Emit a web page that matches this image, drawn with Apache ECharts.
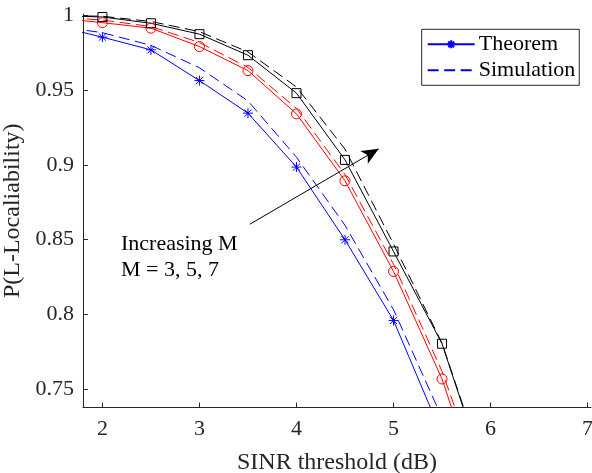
<!DOCTYPE html>
<html>
<head>
<meta charset="utf-8">
<script src="https://cdn.jsdelivr.net/npm/echarts@6/dist/echarts.min.js"></script>
<style>
html,body{margin:0;padding:0;background:#fff;}
#chart{width:592px;height:473px;}
</style>
</head>
<body>
<div id="chart"></div>
<script>
// ---- data ----
const xValues    = [1.5, 2, 2.5, 3, 3.5, 4, 4.5, 5, 5.5, 6];
const theoremM3  = [0.9933, 0.9855, 0.977, 0.9564, 0.9346, 0.8985, 0.8498, 0.7958, 0.7191, 0.640];
const simM3      = [0.9930, 0.9885, 0.980, 0.9650, 0.9428, 0.9051, 0.8595, 0.8030, 0.7306, 0.650];
const theoremM5  = [0.9985, 0.9952, 0.9915, 0.9792, 0.9631, 0.9341, 0.8893, 0.8286, 0.7566, 0.659];
const simM5      = [0.9990, 0.9970, 0.9926, 0.9819, 0.9652, 0.9378, 0.8935, 0.8335, 0.7617, 0.670];
const theoremM7  = [1.0000, 0.9990, 0.9948, 0.9875, 0.9734, 0.9480, 0.9033, 0.8420, 0.7802, 0.682];
const simM7      = [1.0000, 0.9995, 0.9960, 0.9892, 0.9756, 0.9521, 0.9105, 0.8470, 0.7805, 0.684];
const xTicks = [2, 3, 4, 5, 6, 7];
const yTicks = [0.75, 0.8, 0.85, 0.9, 0.95, 1];
const legendNames = ['Theorem', 'Simulation'];
const arrowFrom = [3.519, 0.8602];
const arrowTo   = [4.848, 0.9107];
const annotationLines = ['Increasing M', 'M = 3, 5, 7'];

const FONT = "'Liberation Serif', 'Times New Roman', serif";
const AXIS = '#262626';
const pairs = ys => xValues.map((x, i) => [x, ys[i]]);
const STAR = 'path://M0,-1L0,1M-1,0L1,0M-0.72,-0.72L0.72,0.72M-0.72,0.72L0.72,-0.72';

function solid(name, ys, color, symbol, size) {
  return {
    name, type: 'line', data: pairs(ys), symbol, symbolSize: size, showSymbol: true,
    lineStyle: { color, width: 1, type: 'solid' },
    itemStyle: { color: symbol === STAR ? color : 'rgba(0,0,0,0)', borderColor: color, borderWidth: 1 },
    emphasis: { disabled: true }, z: 3
  };
}
function dashed(name, ys, color) {
  return {
    name, type: 'line', data: pairs(ys), symbol: 'none', showSymbol: false,
    lineStyle: { color, width: 1, type: [11, 5.5] },
    itemStyle: { color },
    emphasis: { disabled: true }, z: 2
  };
}

const chart = echarts.init(document.getElementById('chart'), null, { renderer: 'canvas' });
const series = [
  solid('Theorem', theoremM3, '#0000ff', STAR, 10),
  dashed('Simulation', simM3, '#0000ff'),
  solid('Theorem M=5', theoremM5, '#ff0000', 'circle', 10),
  dashed('Simulation M=5', simM5, '#ff0000'),
  solid('Theorem M=7', theoremM7, '#000000', 'rect', 9),
  dashed('Simulation M=7', simM7, '#000000'),
  {
    name: 'arrow', type: 'line', data: [], silent: true,
    markLine: {
      silent: true, animation: false,
      symbol: ['none', 'arrow'], symbolSize: [11, 17],
      label: { show: false },
      lineStyle: { color: '#000', width: 1, type: 'solid' },
      emphasis: { disabled: true },
      data: [[{ coord: arrowFrom }, { coord: arrowTo }]]
    }
  }
];

chart.setOption({
  animation: false,
  backgroundColor: '#fff',
  textStyle: { fontFamily: FONT },
  grid: { left: 83, top: 14, right: 1, bottom: 65.5, containLabel: false, outerBoundsMode: 'none' },
  legend: {
    data: [
      { name: legendNames[0] },
      { name: legendNames[1], itemStyle: { color: 'rgba(0,0,0,0)', borderWidth: 0, opacity: 0 } }
    ],
    orient: 'vertical',
    left: 421.7, top: 29.3,
    padding: [4, 4, 4, 5],
    itemWidth: 47, itemHeight: 10, itemGap: 4,
    backgroundColor: '#fff',
    borderColor: AXIS, borderWidth: 1, borderRadius: 0,
    textStyle: { fontFamily: FONT, fontSize: 22, color: '#000', lineHeight: 22, padding: [0, 0, 0, -1] },
    selectedMode: false
  },
  xAxis: {
    type: 'value', min: 1.8, max: 7.035,
    name: 'SINR threshold (dB)', nameLocation: 'middle', nameGap: 43,
    nameTextStyle: { fontFamily: FONT, fontSize: 24, color: AXIS },
    axisLine: { show: true, lineStyle: { color: AXIS, width: 1 } },
    axisTick: { show: true, inside: true, length: 5, customValues: xTicks, lineStyle: { color: AXIS } },
    axisLabel: { customValues: xTicks, margin: 11, hideOverlap: false,
      fontFamily: FONT, fontSize: 22, color: AXIS },
    splitLine: { show: false }
  },
  yAxis: {
    type: 'value', min: 0.7375, max: 1.001,
    name: 'P(L-Localiability)', nameLocation: 'middle', nameGap: 50,
    nameTextStyle: { fontFamily: FONT, fontSize: 24, color: AXIS },
    axisLine: { show: true, lineStyle: { color: AXIS, width: 1 } },
    axisTick: { show: true, inside: true, length: 5, customValues: yTicks, lineStyle: { color: AXIS } },
    axisLabel: { customValues: yTicks, margin: 9, hideOverlap: false,
      fontFamily: FONT, fontSize: 22, color: AXIS },
    splitLine: { show: false }
  },
  graphic: [
    { type: 'text', silent: true, x: 121, y: 233,
      style: { text: annotationLines[0], font: "22px 'Liberation Serif', serif", fill: '#000', verticalAlign: 'top' } },
    { type: 'text', silent: true, x: 121, y: 259,
      style: { text: annotationLines[1], font: "22px 'Liberation Serif', serif", fill: '#000', verticalAlign: 'top' } }
  ],
  series
});
</script>
</body>
</html>
